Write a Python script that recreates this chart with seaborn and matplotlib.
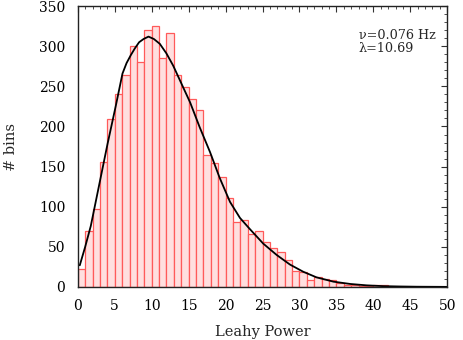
import numpy as np
import pandas as pd
import matplotlib
matplotlib.use("Agg")
import matplotlib.pyplot as plt
import seaborn as sns
from matplotlib.ticker import MultipleLocator

# histogram counts per unit-width bin (bins 0-1, 1-2, ... 49-50)
bin_left = list(range(50))
counts = [23, 70, 97, 156, 209, 241, 264, 300, 280, 320,
          325, 285, 316, 264, 249, 234, 220, 165, 154, 137,
          111, 81, 84, 66, 70, 56, 48, 43, 33, 20,
          19, 9, 13, 10, 9, 5, 3, 2, 1, 1,
          3, 3, 0, 0, 0, 0, 0, 0, 0, 0]

# model curve, points
curve_x = [0.27, 1.0, 1.76, 2.89, 4.02, 5.15, 6.05, 6.6, 7.18, 7.7, 8.3, 8.9, 9.57, 10.3, 11.1,
           12.0, 12.9, 13.8, 15.2, 16.5, 17.9, 19.2, 20.6, 21.95, 23.3, 25.1,
           26.9, 28.7, 30.5, 32.3, 34.6, 36.9, 39.1, 41.4, 43.5, 45.9, 50.0]
curve_y = [27, 50, 76, 127, 178, 226, 266, 279, 289, 297, 305, 309, 312, 309, 303,
           291, 276, 258, 230, 199, 168, 136, 106, 86, 72, 54,
           40, 28, 19, 12, 6.6, 3.7, 2.0, 1.0, 0.6, 0.3, 0.1]

df = pd.DataFrame({"power": [b + 0.5 for b in bin_left], "n": counts})
curve = pd.DataFrame({"power": curve_x, "model": curve_y})

sns.set_theme(style="white")
plt.rcParams["font.family"] = ["DejaVu Serif"]

fig = plt.figure(figsize=(4.63, 3.40), dpi=100)
ax = fig.add_axes([0.168, 0.156, 0.798, 0.826])

sns.histplot(data=df, x="power", weights="n", binwidth=1, binrange=(0, 50),
             color="#ffdfdf", edgecolor="#ff5a5a", linewidth=0.9, alpha=1.0, ax=ax)
sns.lineplot(data=curve, x="power", y="model", color="black", linewidth=1.3, ax=ax)

ax.set_xlim(0, 50)
ax.set_ylim(0, 350)
ax.xaxis.set_major_locator(MultipleLocator(5))
ax.xaxis.set_minor_locator(MultipleLocator(1))
ax.yaxis.set_major_locator(MultipleLocator(50))
ax.yaxis.set_minor_locator(MultipleLocator(10))
ax.tick_params(which="both", direction="in", top=True, right=True, colors="#333333",
               labelcolor="black", labelsize=10)
ax.tick_params(which="major", length=4, width=0.8, pad=9)
ax.tick_params(which="minor", length=2, width=0.6)
for s in ax.spines.values():
    s.set_color("#222222")
    s.set_linewidth(1.0)

ax.set_xlabel("Leahy Power", fontsize=10.5, labelpad=8)
ax.set_ylabel("# bins", fontsize=10.5, labelpad=15)
ax.grid(False)

ax.text(0.76, 0.92, "ν=0.076 Hz\nλ=10.69", transform=ax.transAxes,
        fontsize=9.2, va="top", ha="left", linespacing=1.0)

fig.savefig("out.png", dpi=100)
